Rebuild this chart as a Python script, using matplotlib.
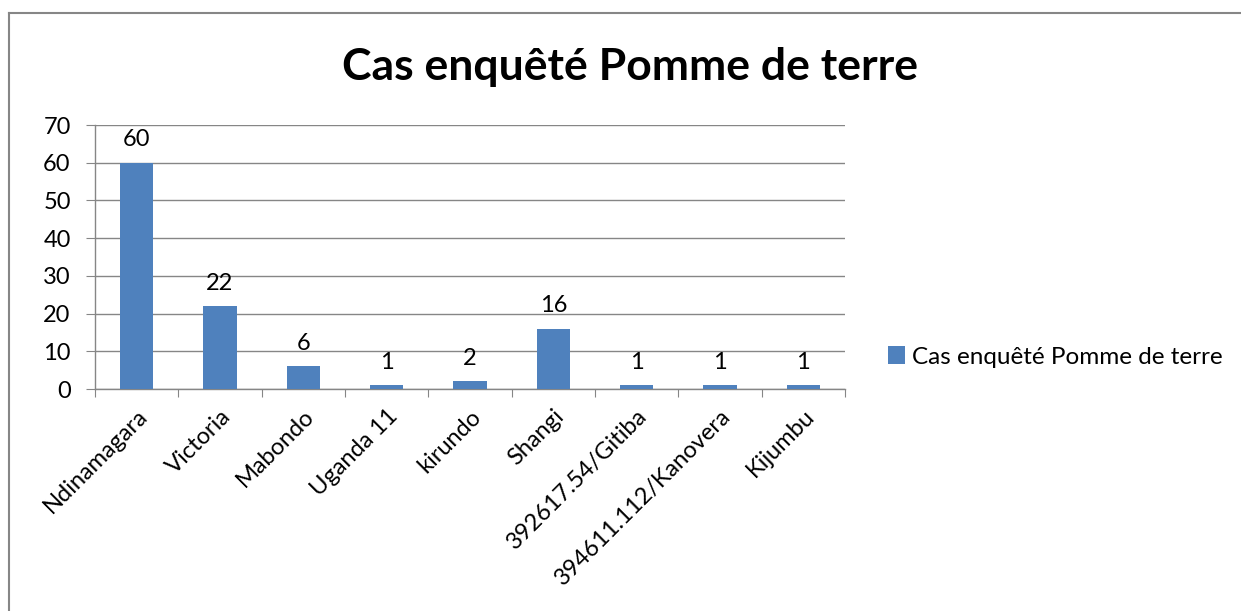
import matplotlib
matplotlib.use("Agg")
import matplotlib.pyplot as plt
from matplotlib.lines import Line2D
from matplotlib.patches import Patch

# -- Data --
categories = ["Ndinamagara", "Victoria", "Mabondo", "Uganda 11", "kirundo",
              "Shangi", "392617.54/Gitiba", "394611.112/Kanovera", "Kijumbu"]
values = [60, 22, 6, 1, 2, 16, 1, 1, 1]
series_name = "Cas enquêté Pomme de terre"
title = "Cas enquêté Pomme de terre"
yticks = [0, 10, 20, 30, 40, 50, 60, 70]

BAR_COLOR = "#4F81BD"
GRID_COLOR = "#868686"
W, H = 1241, 611
FS = 17

plt.rcParams.update({
    "font.family": ["Lato", "DejaVu Sans"],
    "font.size": FS,
})

fig = plt.figure(figsize=(W / 100, H / 100), dpi=100)
# plot area in pixel coordinates: left 95, right 845, top 125, bottom 389
ax = fig.add_axes([95 / W, 1 - 389 / H, (845 - 95) / W, (389 - 125) / H])

x = list(range(len(categories)))
ax.bar(x, values, width=0.4, color=BAR_COLOR, zorder=3)
for xi, v in zip(x, values):
    ax.annotate(str(v), (xi, v), xytext=(0, 9), textcoords="offset points",
                ha="center", va="bottom", fontsize=FS, color="black")

ax.set_xlim(-0.5, len(categories) - 0.5)
ax.set_ylim(0, 70)
ax.set_yticks(yticks)
ax.yaxis.grid(True, color=GRID_COLOR, linewidth=1.0, zorder=0)
ax.tick_params(axis="y", length=6.5, color=GRID_COLOR, pad=11, labelsize=FS)

# category tick marks at boundaries, labels at centres
ax.set_xticks([i - 0.5 for i in range(len(categories) + 1)])
ax.set_xticklabels([])
ax.set_xticks(x, minor=True)
ax.set_xticklabels(categories, minor=True, rotation=45, ha="right",
                   va="top", rotation_mode="anchor", fontsize=FS)
ax.tick_params(axis="x", which="major", length=6, color=GRID_COLOR)
ax.tick_params(axis="x", which="minor", length=0, pad=12)

for side in ["top", "right"]:
    ax.spines[side].set_visible(False)
ax.spines["left"].set_color(GRID_COLOR)
ax.spines["bottom"].set_color(GRID_COLOR)
ax.spines["left"].set_linewidth(1.0)
ax.spines["bottom"].set_linewidth(1.0)

fig.text(630 / W, 1 - 67 / H, title, ha="center", va="center",
         fontsize=32, fontweight="bold")

handle = Patch(facecolor=BAR_COLOR, edgecolor="none")
fig.legend([handle], [series_name], loc="center left",
           bbox_to_anchor=(888 / W, 1 - 357 / H), frameon=False,
           fontsize=17.5, handlelength=0.7, handleheight=0.7, handletextpad=0.3,
           borderaxespad=0, borderpad=0)

# chart frame (only the top and left edges fall inside the picture)
fig.add_artist(Line2D([8.5 / W, 8.5 / W], [0, 1 - 12.5 / H], color=GRID_COLOR,
                      linewidth=1.5, transform=fig.transFigure))
fig.add_artist(Line2D([8.5 / W, 1], [1 - 12.5 / H, 1 - 12.5 / H], color=GRID_COLOR,
                      linewidth=1.5, transform=fig.transFigure))

fig.savefig("out.png", dpi=100)
